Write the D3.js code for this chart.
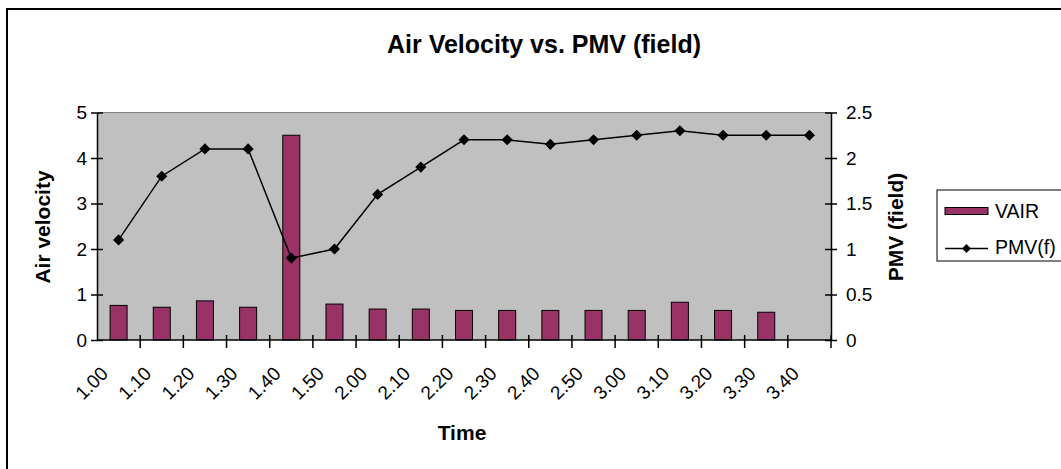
<!DOCTYPE html>
<html>
<head>
<meta charset="utf-8">
<script src="https://cdn.jsdelivr.net/npm/d3@7/dist/d3.min.js"></script>
<style>
  html, body { margin: 0; padding: 0; background: #fff; }
  svg { display: block; }
  text { font-family: "Liberation Sans", Arial, sans-serif; fill: #000; }
</style>
</head>
<body>
<svg id="chart" width="1061" height="469"></svg>
<script>
// Time stamps along the x axis
const times = ["1.00","1.10","1.20","1.30","1.40","1.50","2.00","2.10","2.20",
               "2.30","2.40","2.50","3.00","3.10","3.20","3.30","3.40"];
// Air velocity readings (no reading at 3.40)
const vair = [0.76, 0.72, 0.86, 0.72, 4.5, 0.79, 0.68, 0.68, 0.65,
              0.65, 0.65, 0.65, 0.65, 0.83, 0.65, 0.61];
// PMV (field) readings
const pmv = [1.1, 1.8, 2.1, 2.1, 0.9, 1.0, 1.6, 1.9, 2.2,
             2.2, 2.15, 2.2, 2.25, 2.3, 2.25, 2.25, 2.25];
const leftTicks = [0, 1, 2, 3, 4, 5];
const rightTicks = [0, 0.5, 1, 1.5, 2, 2.5];

const svg = d3.select("#chart");
const plot = { left: 97, right: 831, top: 112.5, bottom: 340 };
const tickFont = "19px";

// outer chart frame
svg.append("rect")
  .attr("x", 7).attr("y", 9).attr("width", 1100).attr("height", 500)
  .attr("fill", "#fff").attr("stroke", "#000").attr("stroke-width", 2);

const x = d3.scaleBand().domain(times).range([plot.left, plot.right]);
const yL = d3.scaleLinear().domain([0, 5]).range([plot.bottom, plot.top]);
const yR = d3.scaleLinear().domain([0, 2.5]).range([plot.bottom, plot.top]);

// plot area
svg.append("rect")
  .attr("x", plot.left).attr("y", plot.top)
  .attr("width", plot.right - plot.left).attr("height", plot.bottom - plot.top)
  .attr("fill", "#c0c0c0");
svg.append("line")
  .attr("x1", plot.left).attr("x2", plot.right)
  .attr("y1", plot.top).attr("y2", plot.top)
  .attr("stroke", "#808080").attr("stroke-width", 1);

// bars
const barW = 17;
svg.append("g").selectAll("rect")
  .data(vair)
  .join("rect")
  .attr("x", (d, i) => x(times[i]) + x.bandwidth() / 2 - barW / 2)
  .attr("y", d => yL(d))
  .attr("width", barW)
  .attr("height", d => yL(0) - yL(d))
  .attr("fill", "#993366")
  .attr("stroke", "#000").attr("stroke-width", 1);

// axes
const tickLen = 6;
function styleAxis(g) {
  g.selectAll("path.domain").attr("stroke", "#000").attr("stroke-width", 1.5);
  g.selectAll(".tick line").attr("stroke", "#000").attr("stroke-width", 1.5);
  g.selectAll(".tick text").style("font-size", tickFont)
    .style("font-family", "'Liberation Sans', Arial, sans-serif");
}

const gL = svg.append("g").attr("transform", `translate(${plot.left},0)`)
  .call(d3.axisLeft(yL).tickValues(leftTicks).tickFormat(d3.format("d"))
    .tickSizeOuter(0).tickSizeInner(tickLen).tickPadding(4));
styleAxis(gL);
gL.selectAll(".tick line").attr("x2", -tickLen).attr("x1", tickLen);

const gR = svg.append("g").attr("transform", `translate(${plot.right},0)`)
  .call(d3.axisRight(yR).tickValues(rightTicks).tickFormat(d => String(d))
    .tickSizeOuter(0).tickSizeInner(tickLen).tickPadding(9));
styleAxis(gR);
gR.selectAll(".tick line").attr("x1", -tickLen).attr("x2", tickLen);

// category ticks sit on band boundaries
const bandEdges = times.map(t => x(t)).concat([plot.right]);
const gB = svg.append("g");
gB.append("line")
  .attr("x1", plot.left).attr("x2", plot.right)
  .attr("y1", plot.bottom).attr("y2", plot.bottom)
  .attr("stroke", "#000").attr("stroke-width", 1.5);
gB.selectAll("line.tk")
  .data(bandEdges.slice(1))
  .join("line").attr("class", "tk")
  .attr("x1", d => d).attr("x2", d => d)
  .attr("y1", plot.bottom - 5).attr("y2", plot.bottom + 8)
  .attr("stroke", "#000").attr("stroke-width", 1.5);
gB.selectAll("text")
  .data(times)
  .join("text")
  .attr("transform", d => `translate(${x(d) + x.bandwidth() / 2 - 14},${plot.bottom + 30}) rotate(-45)`)
  .attr("text-anchor", "end")
  .attr("dy", "0.35em")
  .style("font-size", tickFont)
  .text(d => d);

// PMV line
const cx = (d, i) => x(times[i]) + x.bandwidth() / 2;
svg.append("path")
  .datum(pmv)
  .attr("fill", "none").attr("stroke", "#000").attr("stroke-width", 1.5)
  .attr("d", d3.line().x(cx).y(d => yR(d)));
const diamond = d3.symbol(d3.symbolSquare, 62);
svg.append("g").selectAll("path")
  .data(pmv)
  .join("path")
  .attr("d", diamond)
  .attr("transform", (d, i) => `translate(${cx(d, i)},${yR(d)}) rotate(45)`)
  .attr("fill", "#000");

// titles
svg.append("text")
  .attr("x", 544).attr("y", 53)
  .attr("text-anchor", "middle")
  .style("font-size", "25px").style("font-weight", "bold")
  .text("Air Velocity vs. PMV (field)");
svg.append("text")
  .attr("transform", "translate(50,227) rotate(-90)")
  .attr("text-anchor", "middle")
  .style("font-size", "21px").style("font-weight", "bold")
  .text("Air velocity");
svg.append("text")
  .attr("transform", "translate(903,227) rotate(-90)")
  .attr("text-anchor", "middle")
  .style("font-size", "21px").style("font-weight", "bold")
  .text("PMV (field)");
svg.append("text")
  .attr("x", 462).attr("y", 440)
  .attr("text-anchor", "middle")
  .style("font-size", "21px").style("font-weight", "bold")
  .text("Time");

// legend
const lg = svg.append("g");
lg.append("rect")
  .attr("x", 937).attr("y", 190).attr("width", 140).attr("height", 71)
  .attr("fill", "#fff").attr("stroke", "#000").attr("stroke-width", 1);
lg.append("rect")
  .attr("x", 945).attr("y", 207.5).attr("width", 43).attr("height", 7)
  .attr("fill", "#993366").attr("stroke", "#000").attr("stroke-width", 1);
lg.append("text").attr("x", 995).attr("y", 217.5).style("font-size", "19.5px").text("VAIR");
lg.append("line")
  .attr("x1", 945).attr("x2", 988).attr("y1", 248.5).attr("y2", 248.5)
  .attr("stroke", "#000").attr("stroke-width", 1.5);
lg.append("path").attr("d", d3.symbol(d3.symbolSquare, 40))
  .attr("transform", "translate(966.5,248.5) rotate(45)").attr("fill", "#000");
lg.append("text").attr("x", 995).attr("y", 254).style("font-size", "19.5px").text("PMV(f)");
</script>
</body>
</html>
